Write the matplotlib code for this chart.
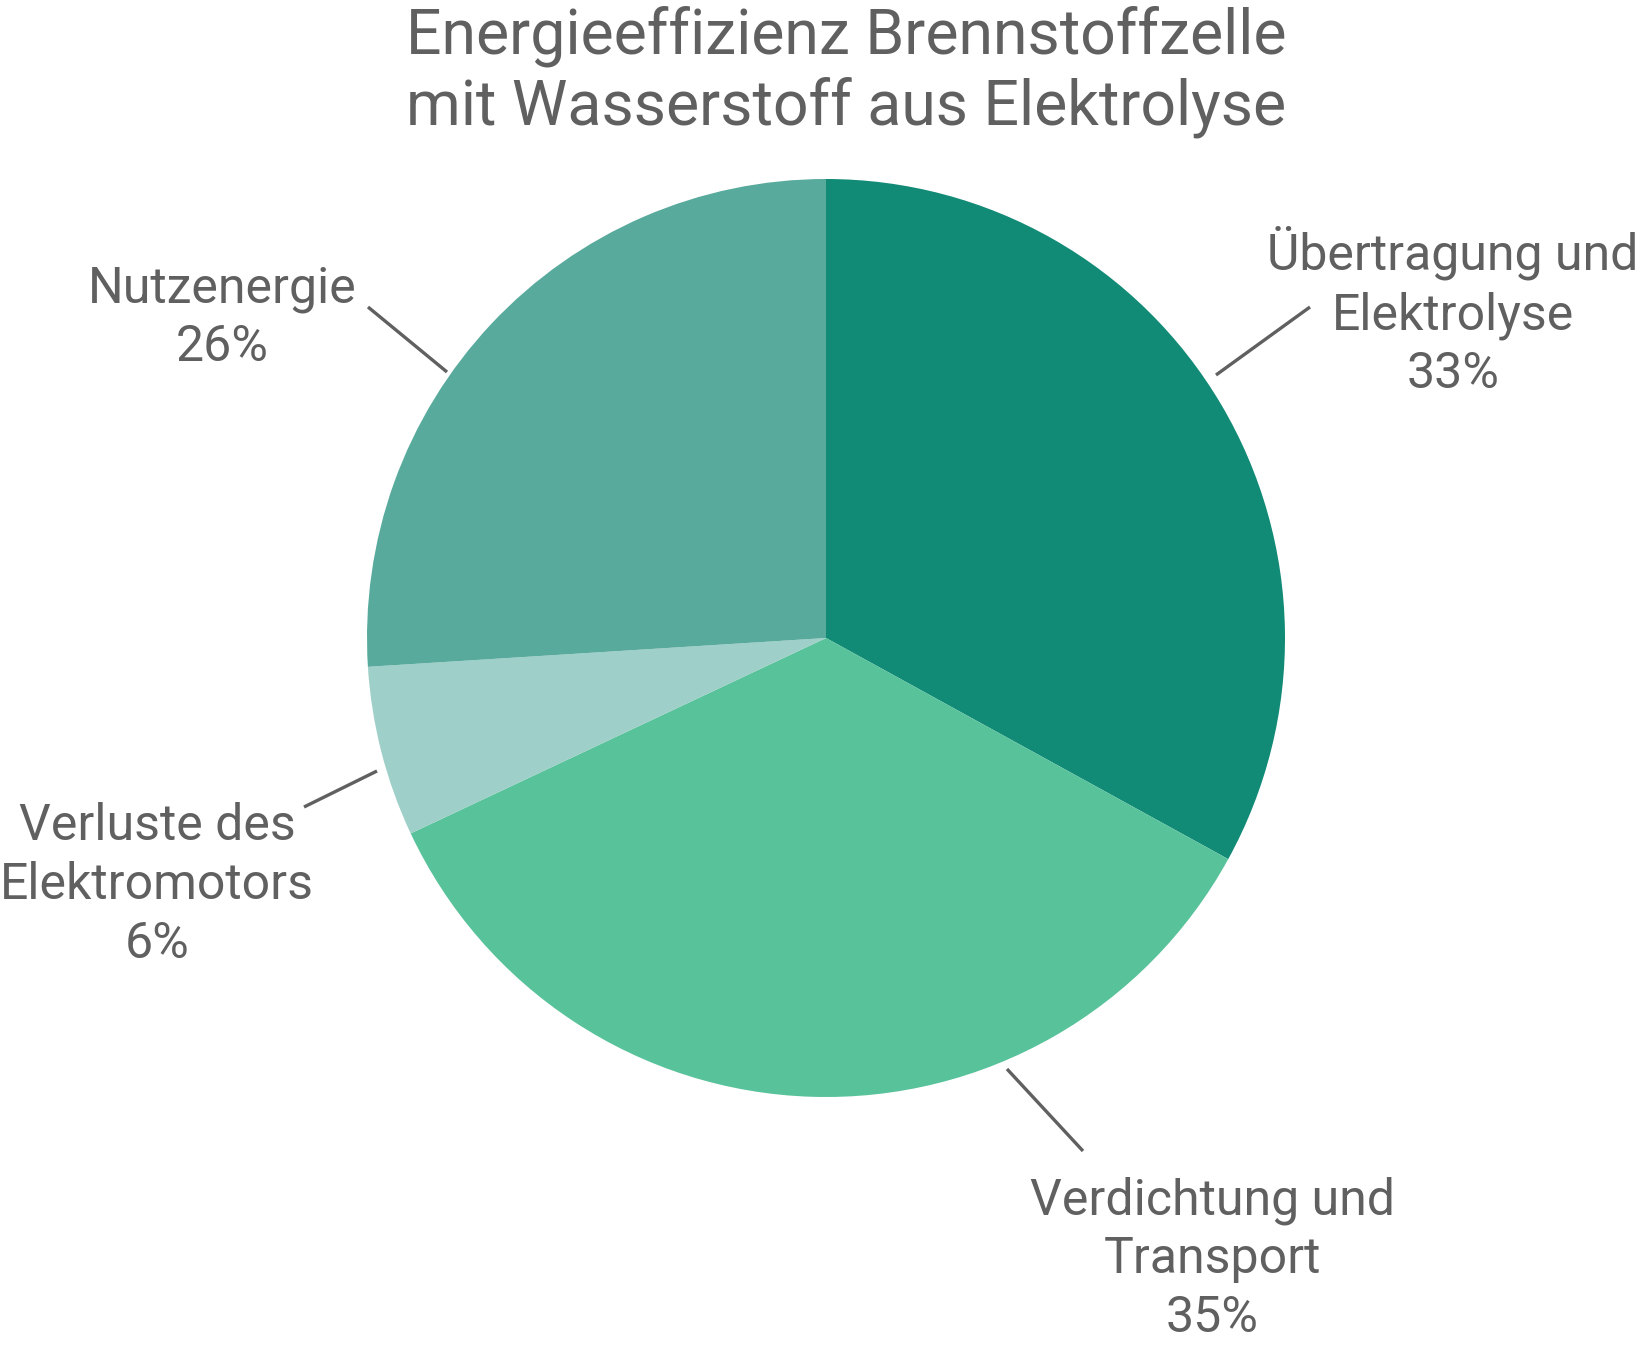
import matplotlib
matplotlib.use("Agg")
import matplotlib.pyplot as plt

# data
categories = ["Übertragung und\nElektrolyse", "Verdichtung und\nTransport",
              "Verluste des\nElektromotors", "Nutzenergie"]
shares = [33, 35, 6, 26]
colors = ["#118A76", "#58C29A", "#9ECFC8", "#58AA9C"]

title = "Energieeffizienz Brennstoffzelle\nmit Wasserstoff aus Elektrolyse"

W, H = 1641, 1350
plt.rcParams["font.family"] = ["Roboto", "DejaVu Sans"]
text_color = "#606060"

fig = plt.figure(figsize=(W / 100, H / 100), dpi=100)
ax = fig.add_axes([0, 0, 1, 1])

cx, cy, r = 826, H - 638, 459
ax.pie(shares, colors=colors, startangle=90, counterclock=False,
       center=(cx, cy), radius=r, frame=True,
       wedgeprops=dict(linewidth=0))
ax.set_xlim(0, W)
ax.set_ylim(0, H)
ax.set_aspect("equal")
ax.axis("off")

# label layout: text centre and leader line start/end, in pixels from top-left
label_pos = [(1453, 312), (1212, 1259), (157, 885), (222, 318)]
leaders = [((1216, 375), (1310, 307)),
           ((1007, 1069), (1083, 1151)),
           ((377, 771), (304, 807)),
           ((447, 372), (368, 307))]

for name, val, (tx, ty), (p0, p1) in zip(categories, shares, label_pos, leaders):
    ax.text(tx, H - ty, f"{name}\n{val}%", ha="center", va="center",
            fontsize=36, color=text_color, linespacing=1.28)
    ax.plot([p0[0], p1[0]], [H - p0[1], H - p1[1]], color=text_color,
            lw=2.4, solid_capstyle="butt")

ax.text(846, H - 72, title, ha="center", va="center", fontsize=45,
        color=text_color, linespacing=1.2)

fig.savefig("out.png", dpi=100)
